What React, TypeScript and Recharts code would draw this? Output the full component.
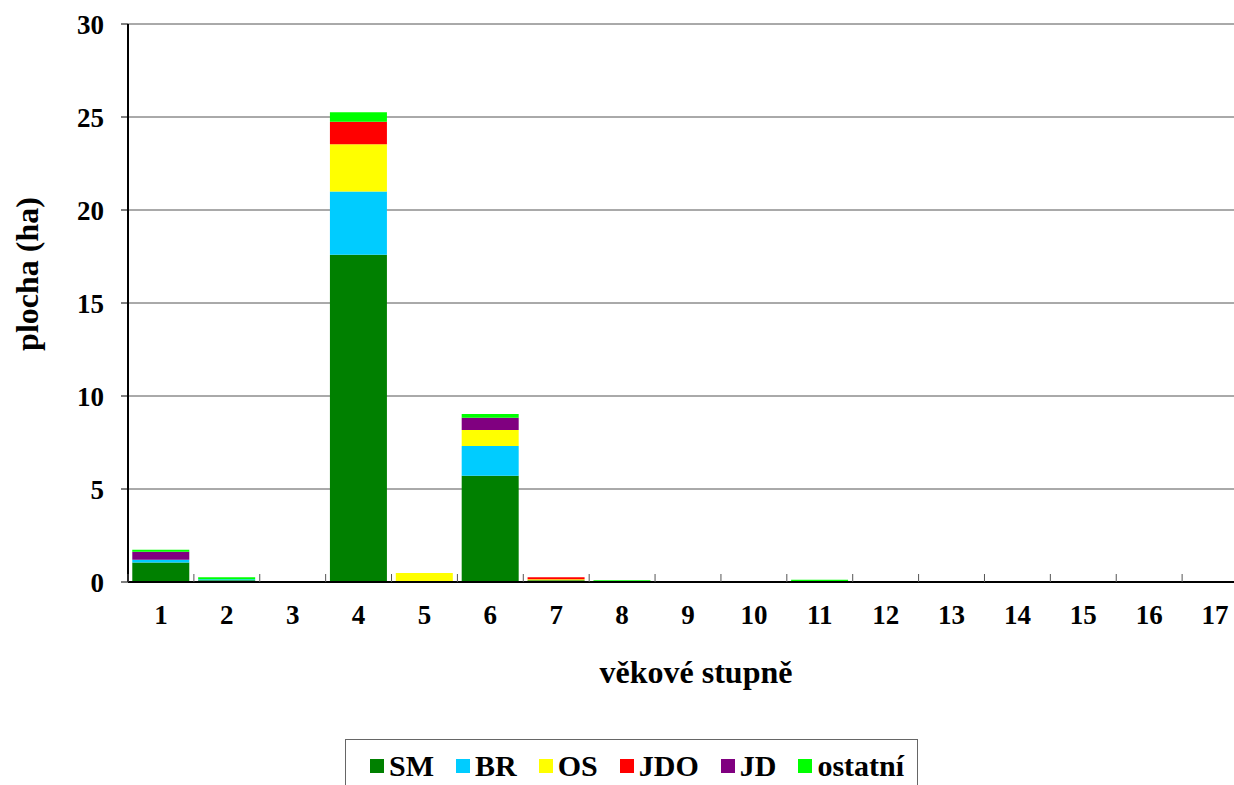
import React from 'react';
import { BarChart, Bar, XAxis, YAxis, CartesianGrid, Legend } from 'recharts';

const categories = ['1', '2', '3', '4', '5', '6', '7', '8', '9', '10', '11', '12', '13', '14', '15', '16', '17'];
const SM = [1.05, 0.1, 0, 17.6, 0, 5.71, 0.1, 0, 0, 0, 0, 0, 0, 0, 0, 0, 0];
const BR = [0.14, 0.05, 0, 3.4, 0.04, 1.6, 0, 0, 0, 0, 0, 0, 0, 0, 0, 0, 0];
const OS = [0, 0, 0, 2.53, 0.45, 0.86, 0.05, 0, 0, 0, 0, 0, 0, 0, 0, 0, 0];
const JDO = [0, 0, 0, 1.22, 0, 0, 0.1, 0, 0, 0, 0, 0, 0, 0, 0, 0, 0];
const JD = [0.43, 0, 0, 0, 0, 0.66, 0, 0, 0, 0, 0, 0, 0, 0, 0, 0, 0];
const OSTATNI = [0.12, 0.1, 0, 0.5, 0, 0.2, 0, 0.1, 0, 0, 0.12, 0, 0, 0, 0, 0, 0];

const seriesNames = ['SM', 'BR', 'OS', 'JDO', 'JD', 'ostatní'];
const seriesValues = [SM, BR, OS, JDO, JD, OSTATNI];
const seriesColors = ['#008000', '#00CCFF', '#FFFF00', '#FF0000', '#800080', '#00FF00'];

const yTicks = [0, 5, 10, 15, 20, 25, 30];

const xTitle = 'věkové stupně';
const yTitle = 'plocha (ha)';

const data = categories.map((c, i) => {
  const row: Record<string, string | number> = { cat: c };
  seriesNames.forEach((n, s) => {
    row[n] = seriesValues[s][i];
  });
  return row;
});

const FONT = '"Liberation Serif", "Times New Roman", serif';
const X_TICK_MARGIN = 23;
const BOUNDARY_TICK = 8;

const renderLegend = () => (
  <div
    style={{
      border: '1.5px solid #666',
      background: '#fff',
      padding: '9px 13px 20px 24px',
      display: 'flex',
      alignItems: 'center',
      fontFamily: FONT,
      fontWeight: 'bold',
      fontSize: 30,
      lineHeight: '34px',
      whiteSpace: 'nowrap',
      color: '#000',
    }}
  >
    {seriesNames.map((n, i) => (
      <span
        key={n}
        style={{ display: 'inline-flex', alignItems: 'center', marginRight: i < seriesNames.length - 1 ? 22 : 0 }}
      >
        <span style={{ width: 14, height: 14, background: seriesColors[i], marginRight: 5, display: 'inline-block' }} />
        {n}
      </span>
    ))}
  </div>
);

const XTick = (props: any) => {
  const { x, y, payload, index } = props;
  const half = payload && payload.offset ? payload.offset : 0;
  const axisY = y - X_TICK_MARGIN;
  const isLast = index === categories.length - 1;
  return (
    <g>
      <line x1={x - half} x2={x - half} y1={axisY} y2={axisY - BOUNDARY_TICK} stroke="#555" strokeWidth={1} />
      {isLast && (
        <line x1={x + half} x2={x + half} y1={axisY} y2={axisY - BOUNDARY_TICK} stroke="#555" strokeWidth={1} />
      )}
      <text
        x={x}
        y={y}
        dy="0.71em"
        textAnchor="middle"
        fill="#000"
        fontSize={27}
        fontWeight="bold"
        fontFamily={FONT}
      >
        {payload.value}
      </text>
    </g>
  );
};

export default function App() {
  return (
    <div style={{ position: 'fixed', left: 0, top: 0, width: 1234, height: 785, overflow: 'hidden', background: '#fff' }}>
      <BarChart
        width={1262}
        height={785}
        data={data}
        margin={{ top: 24, right: 14, left: 0, bottom: 83 }}
        barCategoryGap="6.5%"
        style={{ fontFamily: FONT }}
      >
        <CartesianGrid vertical={false} stroke="#555" strokeWidth={1} />
        <XAxis
          dataKey="cat"
          height={120}
          tickLine={false}
          tickSize={0}
          tickMargin={X_TICK_MARGIN}
          axisLine={{ stroke: '#000', strokeWidth: 2 }}
          tick={<XTick />}
          interval={0}
          label={{
            content: (props: any) => {
              const vb = props.viewBox || {};
              return (
                <text
                  x={vb.x + vb.width / 2 + 8}
                  y={vb.y + 101}
                  textAnchor="middle"
                  fontFamily={FONT}
                  fontWeight="bold"
                  fontSize={32}
                  fill="#000"
                >
                  {xTitle}
                </text>
              );
            },
          }}
        />
        <YAxis
          width={128}
          domain={[0, 30]}
          ticks={yTicks}
          interval={0}
          tickSize={7}
          tickMargin={17}
          tickLine={{ stroke: '#000', strokeWidth: 1 }}
          axisLine={{ stroke: '#000', strokeWidth: 2 }}
          tick={{ fill: '#000', fontSize: 27, fontWeight: 'bold', fontFamily: FONT }}
          label={{
            content: (props: any) => {
              const vb = props.viewBox || {};
              const cx = 27;
              const cy = vb.y + vb.height / 2 - 29;
              return (
                <text
                  x={cx}
                  y={cy}
                  transform={`rotate(-90, ${cx}, ${cy})`}
                  textAnchor="middle"
                  dominantBaseline="central"
                  fontFamily={FONT}
                  fontWeight="bold"
                  fontSize={32}
                  fill="#000"
                >
                  {yTitle}
                </text>
              );
            },
          }}
        />
        {seriesNames.map((n, i) => (
          <Bar key={n} dataKey={n} name={n} stackId="a" fill={seriesColors[i]} isAnimationActive={false} />
        ))}
        <Legend
          layout="vertical"
          align="center"
          verticalAlign="middle"
          content={renderLegend}
          wrapperStyle={{ left: 345, top: 739, width: 'auto', height: 'auto' }}
        />
      </BarChart>
    </div>
  );
}
